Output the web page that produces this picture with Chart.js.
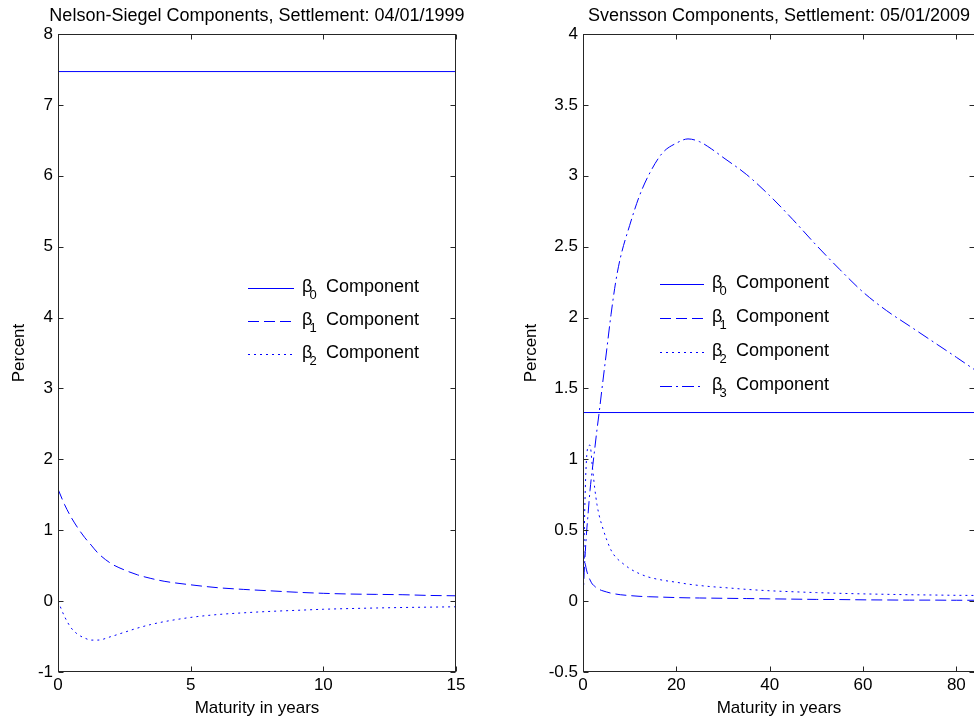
<!DOCTYPE html>
<html>
<head>
<meta charset="utf-8">
<title>Nelson-Siegel and Svensson components</title>
<script src="https://cdn.jsdelivr.net/npm/chart.js@4.4.0/dist/chart.umd.min.js"></script>
<style>
    html, body { margin: 0; padding: 0; background: #fff; overflow: hidden; width: 974px; height: 722px; }
    #nsChart { position: absolute; left: 0; top: 0; }
    #svChart { position: absolute; left: 512px; top: 0; }
</style>
</head>
<body>
<canvas id="nsChart" width="487" height="722"></canvas>
<canvas id="svChart" width="470" height="722"></canvas>
<script>
// Nelson-Siegel components, settlement 04/01/1999
const nsMaturity = [0, 0.25, 0.5, 0.75, 1, 1.25, 1.5, 2, 2.5, 3, 3.5, 4, 5, 6, 7, 8, 9, 10, 11, 12, 13, 14, 15];
const nsLevelMaturity = [0, 15];
const nsBeta0 = [7.47, 7.47];
const nsBeta1 = [1.58, 1.36, 1.18, 1.03, 0.90, 0.79, 0.68, 0.53, 0.44, 0.37, 0.32, 0.28, 0.23, 0.19, 0.165, 0.145, 0.125, 0.11, 0.10, 0.095, 0.09, 0.08, 0.075];
const nsBeta2 = [0, -0.22, -0.38, -0.47, -0.52, -0.55, -0.55, -0.50, -0.44, -0.38, -0.33, -0.29, -0.23, -0.19, -0.165, -0.145, -0.13, -0.115, -0.105, -0.097, -0.09, -0.085, -0.08];
const nsXTicks = [0, 5, 10, 15];
const nsYTicks = [-1, 0, 1, 2, 3, 4, 5, 6, 7, 8];

// Svensson components, settlement 05/01/2009
const svMaturity = [0, 0.25, 0.5, 0.75, 1, 1.5, 2, 2.5, 3, 3.5, 4, 5, 6, 7, 8, 10, 12, 14, 17, 20, 22.5, 25, 27.5, 30, 35, 40, 45, 50, 55, 60, 65, 70, 75, 80, 84];
const svLevelMaturity = [0, 84];
const svBeta0 = [1.33, 1.33];
const svBeta1 = [0.38, 0.31, 0.26, 0.22, 0.19, 0.15, 0.12, 0.105, 0.09, 0.082, 0.075, 0.065, 0.056, 0.05, 0.045, 0.039, 0.034, 0.031, 0.028, 0.025, 0.023, 0.022, 0.021, 0.02, 0.018, 0.016, 0.014, 0.012, 0.011, 0.009, 0.008, 0.007, 0.007, 0.006, 0.006];
const svBeta2 = [0, 0.45, 0.8, 1.0, 1.08, 1.1, 0.95, 0.8, 0.68, 0.6, 0.54, 0.44, 0.36, 0.31, 0.28, 0.23, 0.195, 0.17, 0.148, 0.133, 0.12, 0.11, 0.102, 0.096, 0.083, 0.073, 0.066, 0.06, 0.055, 0.051, 0.048, 0.045, 0.043, 0.041, 0.04];
const svBeta3 = [0, 0.2, 0.35, 0.48, 0.58, 0.78, 0.93, 1.07, 1.21, 1.34, 1.48, 1.75, 2.02, 2.25, 2.42, 2.65, 2.85, 3.0, 3.16, 3.23, 3.26, 3.24, 3.19, 3.13, 3.01, 2.86, 2.69, 2.51, 2.34, 2.18, 2.05, 1.94, 1.83, 1.72, 1.63];
const svXTicks = [0, 20, 40, 60, 80];
const svXMax = 84;
const svYTicks = [-0.5, 0, 0.5, 1, 1.5, 2, 2.5, 3, 3.5, 4];

const FONT = "'Liberation Sans', Arial, sans-serif";
const BLUE = '#0000ff';
const DASHED = [11, 5];
const DOTTED = [2, 4];
const DASHDOT = [12, 4, 2, 4];

const pts = (xs, ys) => xs.map((x, i) => ({ x: x, y: ys[i] }));

function series(label, xs, ys, dash) {
    return {
        label: label,
        data: pts(xs, ys),
        borderColor: BLUE,
        borderWidth: 1,
        borderDash: dash,
        pointRadius: 0,
        fill: false,
        cubicInterpolationMode: 'monotone'
    };
}

// box round the plot with inward tick marks on all four sides
const frameTicks = {
    id: 'frameTicks',
    afterDraw(chart) {
        const { ctx, chartArea: a, scales: { x, y } } = chart;
        const L = Math.round(a.left) + 0.5, R = Math.round(a.right) - 0.5;
        const T = Math.round(a.top) + 0.5, B = Math.round(a.bottom) - 0.5;
        const len = 5;
        ctx.save();
        ctx.strokeStyle = '#262626';
        ctx.lineWidth = 1;
        ctx.setLineDash([]);
        ctx.strokeRect(L, T, R - L, B - T);
        ctx.beginPath();
        x.ticks.forEach(t => {
            const px = Math.round(x.getPixelForValue(t.value)) + 0.5;
            ctx.moveTo(px, B); ctx.lineTo(px, B - len);
            ctx.moveTo(px, T); ctx.lineTo(px, T + len);
        });
        y.ticks.forEach(t => {
            const py = Math.round(y.getPixelForValue(t.value)) + 0.5;
            ctx.moveTo(L, py); ctx.lineTo(L + len, py);
            ctx.moveTo(R, py); ctx.lineTo(R - len, py);
        });
        ctx.stroke();
        ctx.restore();
    }
};

// title centred over the plot box; wider than the box, so not squeezed
const plotTitle = {
    id: 'plotTitle',
    afterDraw(chart, args, opts) {
        const { ctx, chartArea: a } = chart;
        ctx.save();
        ctx.fillStyle = '#000';
        ctx.font = '18px ' + FONT;
        ctx.textAlign = 'center';
        ctx.textBaseline = 'alphabetic';
        ctx.fillText(opts.text, (a.left + a.right) / 2, 21);
        ctx.restore();
    }
};

// legend with subscripted beta, drawn inside the plot
const betaLegend = {
    id: 'betaLegend',
    afterDatasetsDraw(chart, args, opts) {
        const ctx = chart.ctx;
        ctx.save();
        chart.data.datasets.forEach((ds, i) => {
            const y = Math.round(opts.y + i * opts.rowGap) + 0.5;
            ctx.strokeStyle = ds.borderColor;
            ctx.lineWidth = 1;
            ctx.setLineDash(ds.borderDash || []);
            ctx.beginPath();
            ctx.moveTo(opts.x, y);
            ctx.lineTo(opts.x + opts.sample, y);
            ctx.stroke();
            ctx.setLineDash([]);

            const parts = ds.label.split(' ');
            const head = parts[0];
            const tx = opts.x + opts.sample + 8;
            const base = y + 3.2;
            ctx.fillStyle = '#000';
            ctx.textAlign = 'left';
            ctx.textBaseline = 'alphabetic';
            ctx.font = '18px ' + FONT;
            ctx.fillText(head[0], tx, base);
            ctx.font = '13px ' + FONT;
            ctx.fillText(head.slice(1), tx + 7.5, base + 7.5);
            ctx.font = '18px ' + FONT;
            ctx.fillText(parts.slice(1).join(' '), tx + 24, base);
        });
        ctx.restore();
    }
};

function makeOptions(title, xTicks, xMax, yTicks, yWidth, rightPad, legendPos) {
    const tickFont = { family: FONT, size: 17 };
    return {
        responsive: false,
        animation: false,
        layout: { padding: { left: 0, right: rightPad, top: 34, bottom: 0 } },
        plugins: {
            legend: { display: false },
            tooltip: { enabled: false },
            title: { display: false },
            plotTitle: { text: title },
            betaLegend: legendPos
        },
        scales: {
            x: {
                type: 'linear',
                min: xTicks[0],
                max: xMax,
                afterBuildTicks: s => { s.ticks = xTicks.map(v => ({ value: v })); },
                afterFit: s => { s.height = 50; },
                grid: { display: false, drawTicks: false },
                border: { display: false },
                ticks: { color: '#000', font: tickFont, padding: 3, maxRotation: 0, autoSkip: false, callback: v => String(v) },
                title: { display: true, text: 'Maturity in years', color: '#000', font: tickFont, padding: { top: 0, bottom: 3 } }
            },
            y: {
                type: 'linear',
                min: yTicks[0],
                max: yTicks[yTicks.length - 1],
                afterBuildTicks: s => { s.ticks = yTicks.map(v => ({ value: v })); },
                afterFit: s => { s.width = yWidth; },
                grid: { display: false, drawTicks: false },
                border: { display: false },
                ticks: { color: '#000', font: tickFont, padding: 5, autoSkip: false, callback: v => String(v) },
                title: { display: true, text: 'Percent', color: '#000', font: tickFont, padding: { top: 9, bottom: 0 } }
            }
        }
    };
}

new Chart(document.getElementById('nsChart'), {
    type: 'line',
    data: {
        datasets: [
            series('β0 Component', nsLevelMaturity, nsBeta0, []),
            series('β1 Component', nsMaturity, nsBeta1, DASHED),
            series('β2 Component', nsMaturity, nsBeta2, DOTTED)
        ]
    },
    options: makeOptions('Nelson-Siegel Components, Settlement: 04/01/1999',
        nsXTicks, nsXTicks[nsXTicks.length - 1], nsYTicks, 58, 31,
        { x: 248, y: 288, rowGap: 33, sample: 46 }),
    plugins: [betaLegend, frameTicks, plotTitle]
});

new Chart(document.getElementById('svChart'), {
    type: 'line',
    data: {
        datasets: [
            series('β0 Component', svLevelMaturity, svBeta0, []),
            series('β1 Component', svMaturity, svBeta1, DASHED),
            series('β2 Component', svMaturity, svBeta2, DOTTED),
            series('β3 Component', svMaturity, svBeta3, DASHDOT)
        ]
    },
    options: makeOptions('Svensson Components, Settlement: 05/01/2009',
        svXTicks, svXMax, svYTicks, 71, 7,
        { x: 148, y: 284, rowGap: 34, sample: 44 }),
    plugins: [betaLegend, frameTicks, plotTitle]
});
</script>
</body>
</html>
